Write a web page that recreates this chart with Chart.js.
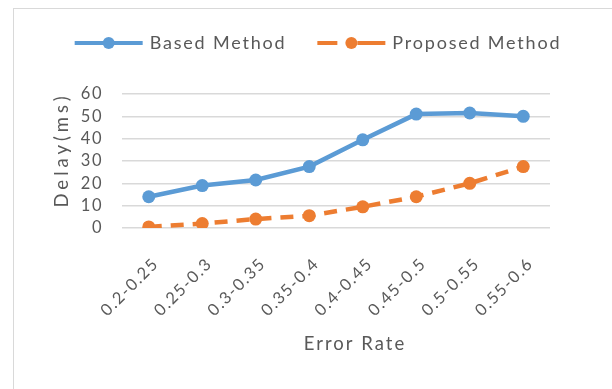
<!DOCTYPE html>
<html>
<head>
<meta charset="utf-8">
<script src="https://cdn.jsdelivr.net/npm/chart.js@4.4.0/dist/chart.umd.min.js"></script>
<style>
  html, body { margin: 0; padding: 0; background: #fff; overflow: hidden; }
  #wrap { position: relative; width: 612px; height: 389px; }
  #frame { position: absolute; left: 13px; top: 8px; width: 640px; height: 420px; border: 1px solid #d9d9d9; }
  canvas { position: absolute; left: 0; top: 0; }
</style>
</head>
<body>
<div id="wrap">
  <div id="frame"></div>
  <canvas id="mycanvas" width="612" height="389"></canvas>
</div>
<script>
var errorRates = ['0.2-0.25', '0.25-0.3', '0.3-0.35', '0.35-0.4', '0.4-0.45', '0.45-0.5', '0.5-0.55', '0.55-0.6'];
var basedDelay = [14, 19, 21.5, 27.5, 39.5, 51, 51.5, 50];
var proposedDelay = [0.5, 2, 4, 5.5, 9.5, 14, 20, 27.5];
var delayTicks = [0, 10, 20, 30, 40, 50, 60];
var xTitle = 'Error Rate';
var yTitle = 'Delay(ms)';

var BLUE = '#5b9bd5';
var ORANGE = '#ed7d31';
var TEXT = '#595959';
var FONT = 'Lato, "Open Sans", sans-serif';

Chart.defaults.font.family = FONT;
Chart.defaults.color = TEXT;

// the office look has loose letter spacing; canvas state is reset on resize,
// so set it again before every layout and draw
var spacing = {
    id: 'spacing',
    beforeLayout: function(chart) { chart.ctx.letterSpacing = '1.5px'; },
    beforeDraw: function(chart) { chart.ctx.letterSpacing = '1.5px'; }
};

// legend (line with marker in the middle) and the two axis titles
var lineLegend = {
    id: 'lineLegend',
    afterDraw: function(chart) {
        var ctx = chart.ctx;
        var area = chart.chartArea;
        var y = 43;
        var lineLen = 68, gapText = 7, gapItem = 31;
        ctx.save();
        ctx.font = '18px ' + FONT;
        ctx.letterSpacing = '1.8px';
        var items = chart.data.datasets.map(function(ds) {
            return { ds: ds, w: ctx.measureText(ds.label).width };
        });
        var total = 0;
        items.forEach(function(it, i) {
            total += lineLen + gapText + it.w + (i ? gapItem : 0);
        });
        var x = 318 - total / 2;
        items.forEach(function(it) {
            var ds = it.ds;
            var mid = x + lineLen / 2;
            ctx.strokeStyle = ds.borderColor;
            ctx.fillStyle = ds.borderColor;
            ctx.lineWidth = 4;
            ctx.beginPath();
            if (ds.borderDash) {
                ctx.moveTo(x, y); ctx.lineTo(x + 20, y);
                ctx.moveTo(mid + 6, y); ctx.lineTo(x + lineLen, y);
            } else {
                ctx.moveTo(x, y); ctx.lineTo(x + lineLen, y);
            }
            ctx.stroke();
            ctx.beginPath();
            ctx.arc(mid, y, 6, 0, Math.PI * 2);
            ctx.fill();
            ctx.fillStyle = TEXT;
            ctx.textBaseline = 'middle';
            ctx.textAlign = 'left';
            ctx.fillText(ds.label, x + lineLen + gapText, y);
            x += lineLen + gapText + it.w + gapItem;
        });

        ctx.fillStyle = TEXT;
        ctx.textAlign = 'center';
        ctx.textBaseline = 'middle';
        ctx.font = '18.5px ' + FONT;
        ctx.letterSpacing = '2px';
        ctx.fillText(xTitle, (area.left + area.right) / 2 + 19, 344);

        ctx.translate(area.left - 60, (area.top + area.bottom) / 2 - 9);
        ctx.rotate(-Math.PI / 2);
        ctx.letterSpacing = '4px';
        ctx.fillText(yTitle, 2, 0);
        ctx.restore();
    }
};

var ctx = document.getElementById('mycanvas');

var lineChart = new Chart(ctx, {
    type: 'line',
    data: {
        labels: errorRates,
        datasets: [
            {
                label: 'Based Method',
                data: basedDelay,
                borderColor: BLUE,
                backgroundColor: BLUE,
                borderWidth: 4.5,
                pointRadius: 6.5,
                pointBorderWidth: 0,
                pointBackgroundColor: BLUE,
                tension: 0
            },
            {
                label: 'Proposed Method',
                data: proposedDelay,
                borderColor: ORANGE,
                backgroundColor: ORANGE,
                borderWidth: 4.5,
                borderDash: [13, 9],
                pointRadius: 6.5,
                pointBorderWidth: 0,
                pointBackgroundColor: ORANGE,
                tension: 0
            }
        ]
    },
    options: {
        responsive: false,
        animation: false,
        layout: { padding: { left: 44, right: 62, top: 94, bottom: 28 } },
        plugins: {
            legend: { display: false },
            tooltip: { enabled: false }
        },
        scales: {
            x: {
                offset: true,
                grid: { display: false },
                border: { display: false },
                ticks: {
                    autoSkip: false,
                    minRotation: 45,
                    maxRotation: 45,
                    padding: 18,
                    labelOffset: 7,
                    font: { size: 16.5 },
                    color: TEXT
                },
                afterFit: function(scale) { scale.height = 133; }
            },
            y: {
                min: 0,
                max: 60,
                afterBuildTicks: function(scale) {
                    scale.ticks = delayTicks.map(function(v) { return { value: v }; });
                },
                grid: { color: '#d9d9d9', lineWidth: 1.5, drawTicks: false },
                border: { display: false },
                ticks: {
                    autoSkip: false,
                    padding: 19,
                    font: { size: 16.5 },
                    color: TEXT
                },
                afterFit: function(scale) { scale.width = 78; }
            }
        }
    },
    plugins: [spacing, lineLegend]
});
</script>
</body>
</html>
